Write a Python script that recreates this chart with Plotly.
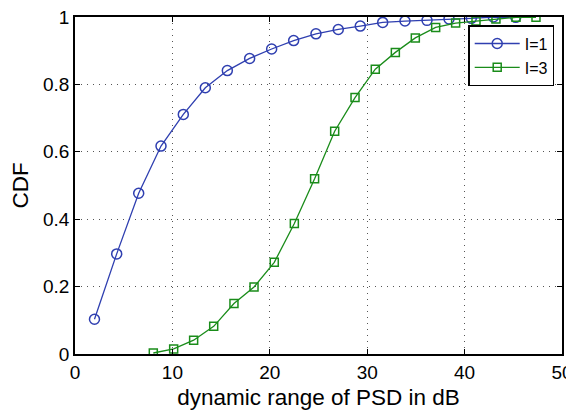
import plotly.graph_objects as go

x_i1 = [2.0, 4.28, 6.54, 8.83, 11.12, 13.38, 15.64, 17.93, 20.19, 22.45,
        24.74, 27.03, 29.29, 31.59, 33.88, 36.14, 38.4, 40.69, 42.95, 45.25]
y_i1 = [0.103, 0.297, 0.477, 0.617, 0.711, 0.790, 0.841, 0.877, 0.905, 0.930,
        0.950, 0.963, 0.973, 0.984, 0.988, 0.990, 0.994, 0.996, 1.0, 0.999]

x_i3 = [8.04, 10.13, 12.18, 14.24, 16.32, 18.38, 20.46, 22.52, 24.6, 26.66,
        28.75, 30.83, 32.89, 34.94, 37.03, 39.08, 41.17, 43.22, 45.28, 47.33]
y_i3 = [0.003, 0.015, 0.041, 0.082, 0.150, 0.199, 0.272, 0.387, 0.520, 0.661,
        0.761, 0.845, 0.895, 0.938, 0.969, 0.982, 0.988, 0.994, 0.999, 0.999]

x_ticks = [0, 10, 20, 30, 40, 50]
y_ticks = [0, 0.2, 0.4, 0.6, 0.8, 1]
y_tick_labels = ["0", "0.2", "0.4", "0.6", "0.8", "1"]

blue = "#2f3fb0"
green = "#1a8c1a"
font_family = "Liberation Sans, Arial, sans-serif"

fig = go.Figure()
fig.add_trace(go.Scatter(
    x=x_i1, y=y_i1, mode="lines+markers", name="I=1",
    line=dict(color=blue, width=1.3),
    marker=dict(symbol="circle-open", size=10, color=blue, line=dict(width=1.5)),
))
fig.add_trace(go.Scatter(
    x=x_i3, y=y_i3, mode="lines+markers", name="I=3",
    line=dict(color=green, width=1.3),
    marker=dict(symbol="square-open", size=8, color=green, line=dict(width=1.5)),
))

axis_common = dict(
    showline=True, linecolor="black", linewidth=1.5, mirror="ticks",
    ticks="inside", ticklen=5, tickcolor="black",
    showgrid=True, gridcolor="#555555", griddash="1px,5px", gridwidth=1,
    zeroline=False, automargin=False, ticklabeloverflow="allow",
    tickfont=dict(family=font_family, size=19, color="black"),
)

fig.update_xaxes(range=[0, 50], tickvals=x_ticks, **axis_common,
                 title=dict(text="dynamic range of PSD in dB", standoff=8,
                            font=dict(family=font_family, size=22.5, color="black")))
fig.update_yaxes(range=[0, 1], tickvals=y_ticks, ticktext=y_tick_labels, **axis_common,
                 title=dict(text="CDF", standoff=26,
                            font=dict(family=font_family, size=22.5, color="black")))

# page body has an 8px default margin, so the figure is offset by 8px
fig.update_layout(
    width=566, height=409,
    margin=dict(l=67, r=12, t=9, b=63, autoexpand=False),
    plot_bgcolor="white", paper_bgcolor="white",
    showlegend=True,
    legend=dict(
        x=0.984, y=0.976, xanchor="right", yanchor="top",
        bgcolor="white", bordercolor="black", borderwidth=1.5,
        font=dict(family=font_family, size=16, color="black"),
        tracegroupgap=0, itemwidth=45,
    ),
)

fig.write_html("out.html")
